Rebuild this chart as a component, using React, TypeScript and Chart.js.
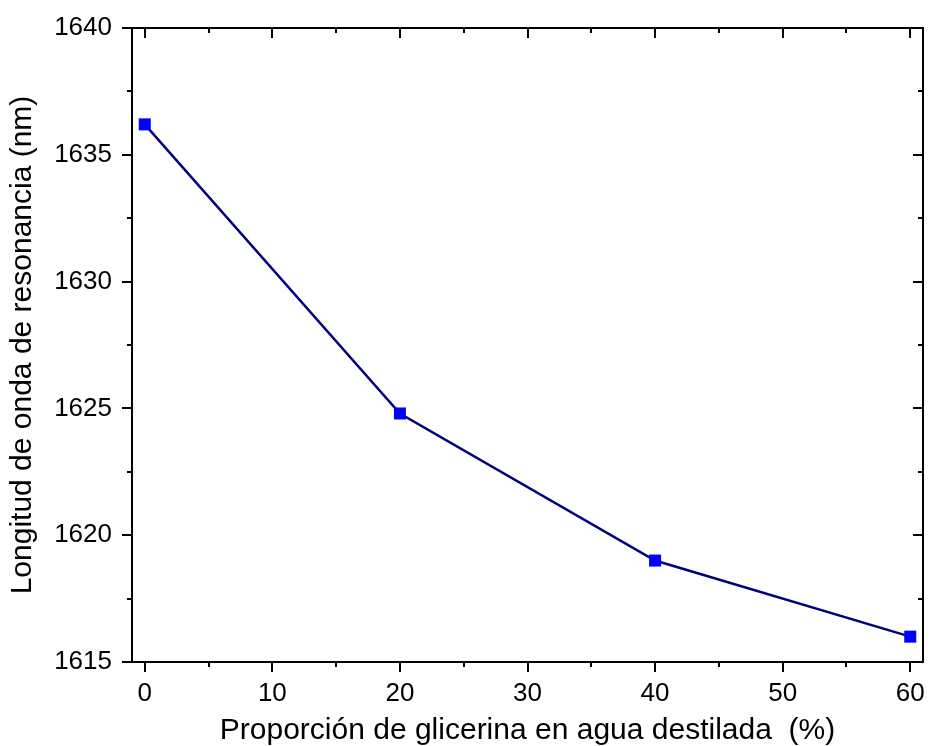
import React, { useEffect, useRef } from "react";
import { Chart, registerables } from "chart.js";

Chart.register(...registerables);

const proportions = [0, 20, 40, 60];
const wavelengths = [1636.2, 1624.8, 1619.0, 1616.0];
const xMajorTicks = [0, 10, 20, 30, 40, 50, 60];
const xMinorTicks = [5, 15, 25, 35, 45, 55];
const yMajorTicks = [1615, 1620, 1625, 1630, 1635, 1640];
const yMinorTicks = [1617.5, 1622.5, 1627.5, 1632.5, 1637.5];
const xTitle = "Proporción de glicerina en agua destilada  (%)";
const yTitle = "Longitud de onda de resonancia (nm)";

const FONT = "'Liberation Sans', Arial, sans-serif";

const framePlugin = {
  id: "frameTicks",
  afterDatasetsDraw(chart: any) {
    const { ctx, chartArea, scales } = chart;
    const { left, right, top, bottom } = chartArea;
    const x = scales.x;
    const y = scales.y;
    ctx.save();
    ctx.strokeStyle = "#000";
    ctx.lineWidth = 2;
    ctx.strokeRect(left, top, right - left, bottom - top);
    const major = 10;
    const minor = 5;
    ctx.beginPath();
    xMajorTicks.forEach((v) => {
      const px = Math.round(x.getPixelForValue(v));
      ctx.moveTo(px, bottom);
      ctx.lineTo(px, bottom + major);
      ctx.moveTo(px, top);
      ctx.lineTo(px, top + major);
    });
    xMinorTicks.forEach((v) => {
      const px = Math.round(x.getPixelForValue(v));
      ctx.moveTo(px, bottom);
      ctx.lineTo(px, bottom + minor);
      ctx.moveTo(px, top);
      ctx.lineTo(px, top + minor);
    });
    yMajorTicks.forEach((v) => {
      const py = Math.round(y.getPixelForValue(v));
      ctx.moveTo(left, py);
      ctx.lineTo(left - major, py);
      ctx.moveTo(right, py);
      ctx.lineTo(right - major, py);
    });
    yMinorTicks.forEach((v) => {
      const py = Math.round(y.getPixelForValue(v));
      ctx.moveTo(left, py);
      ctx.lineTo(left - minor, py);
      ctx.moveTo(right, py);
      ctx.lineTo(right - minor, py);
    });
    ctx.stroke();
    ctx.restore();
  },
};

export default function App() {
  const ref = useRef<HTMLCanvasElement>(null);
  useEffect(() => {
    document.body.style.margin = "0";
    const chart = new Chart(ref.current!, {
      type: "line",
      data: {
        datasets: [
          {
            data: proportions.map((p, i) => ({ x: p, y: wavelengths[i] })),
            borderColor: "#000080",
            borderWidth: 2.5,
            backgroundColor: "#0000ff",
            pointBackgroundColor: "#0000ff",
            pointBorderColor: "#0000ff",
            pointBorderWidth: 0,
            pointStyle: "rect",
            pointRadius: 8.5,
            tension: 0,
            clip: false,
          },
        ],
      },
      options: {
        animation: false,
        responsive: false,
        layout: { autoPadding: false, padding: { top: 28, right: 8, left: 0, bottom: 0 } },
        plugins: { legend: { display: false }, tooltip: { enabled: false } },
        scales: {
          x: {
            type: "linear",
            min: -1,
            max: 61,
            afterBuildTicks: (s: any) => {
              s.ticks = xMajorTicks.map((v) => ({ value: v }));
            },
            afterFit: (s: any) => {
              s.height = 84;
              s.paddingLeft = 0;
              s.paddingRight = 0;
            },
            grid: { display: false },
            border: { display: false },
            ticks: {
              color: "#000",
              font: { family: FONT, size: 26 },
              padding: 8,
              maxRotation: 0,
              callback: (v: any) => String(v),
            },
            title: {
              display: true,
              text: xTitle,
              color: "#000",
              font: { family: FONT, size: 30, lineHeight: 1 },
              padding: { top: 0, bottom: 0 },
            },
          },
          y: {
            type: "linear",
            min: 1615,
            max: 1640,
            afterBuildTicks: (s: any) => {
              s.ticks = yMajorTicks.map((v) => ({ value: v }));
            },
            afterFit: (s: any) => {
              s.width = 132;
              s.paddingTop = 0;
              s.paddingBottom = 0;
            },
            grid: { display: false },
            border: { display: false },
            ticks: {
              color: "#000",
              font: { family: FONT, size: 26 },
              padding: 12,
              callback: (v: any) => String(v),
            },
            title: {
              display: true,
              text: yTitle,
              color: "#000",
              font: { family: FONT, size: 30, lineHeight: 1 },
              padding: { top: 8, bottom: 0 },
            },
          },
        },
      },
      plugins: [framePlugin],
    });
    return () => chart.destroy();
  }, []);
  return (
    <div style={{ position: "absolute", left: 0, top: 0, width: 931, height: 746, background: "#fff" }}>
      <canvas ref={ref} width={931} height={746} />
    </div>
  );
}
